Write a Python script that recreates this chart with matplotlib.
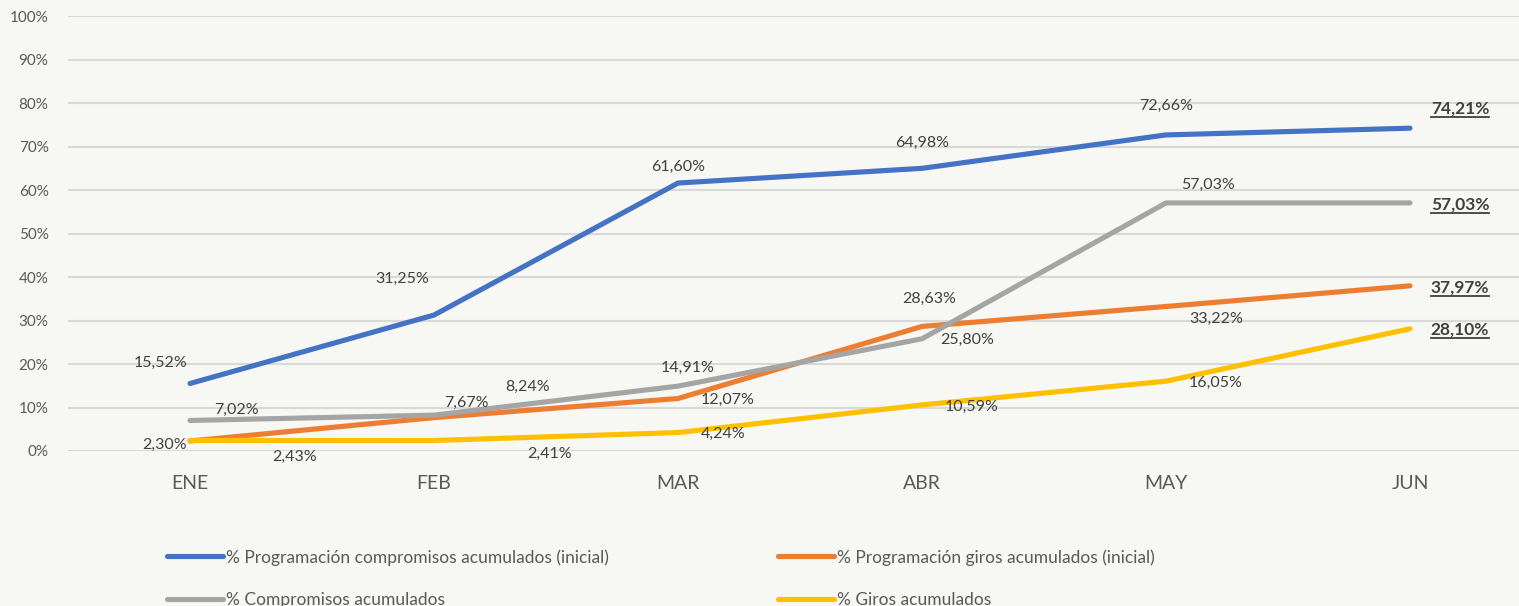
import numpy as np
import matplotlib
matplotlib.use('Agg')
import matplotlib.pyplot as plt
from matplotlib.lines import Line2D

#%% Datos

meses = ['ENE', 'FEB', 'MAR', 'ABR', 'MAY', 'JUN']

prog_compromisos = [15.52, 31.25, 61.60, 64.98, 72.66, 74.21]
prog_giros = [2.30, 7.67, 12.07, 28.63, 33.22, 37.97]
compromisos = [7.02, 8.24, 14.91, 25.80, 57.03, 57.03]
giros = [2.43, 2.41, 4.24, 10.59, 16.05, 28.10]

nombres = ['% Programación compromisos acumulados (inicial)',
           '% Programación giros acumulados (inicial)',
           '% Compromisos acumulados',
           '% Giros acumulados']

colores = ['#4472C4', '#ED7D31', '#A5A5A5', '#FFC000']

# desplazamiento de las etiquetas (pixeles, x derecha / y arriba)
off_azul = [(-29, 21), (-32, 36), (0, 16), (0, 25), (0, 29), (50, 20)]
off_naranja = [(-25, -4), (32, 15), (50, -1), (7, 28), (50, -12), (50, -2)]
off_gris = [(46, 11), (94, 28), (10, 18), (45, -1), (42, 18), (50, -2)]
off_amarillo = [(105, -16), (116, -13), (45, -1), (50, -2), (50, -2), (50, -1)]

#%% Figura

plt.rcParams['font.family'] = ['Lato', 'DejaVu Sans']
fondo = '#F7F7F3'

fig = plt.figure(figsize=(15.19, 6.06), dpi=100, facecolor=fondo)
ax = fig.add_axes([68/1519, 155/606, 1464/1519, 435/606])
ax.set_facecolor(fondo)

x = np.arange(len(meses))
series = [prog_compromisos, prog_giros, compromisos, giros]
offsets = [off_azul, off_naranja, off_gris, off_amarillo]

for s, c, n in zip(series, colores, nombres):
    ax.plot(x, s, color=c, lw=3.7, solid_capstyle='round',
            solid_joinstyle='round', label=n, zorder=3)

fin = []
for s, off in zip(series, offsets):
    for i, v in enumerate(s):
        txt = f'{v:.2f}'.replace('.', ',') + '%'
        ultimo = i == len(s) - 1
        t = ax.annotate(txt, (x[i], v), xytext=off[i], textcoords='offset pixels',
                        ha='center', va='center',
                        fontsize=12.5 if ultimo else 11.5, color='#404040',
                        fontweight='bold' if ultimo else 'normal', zorder=4)
        if ultimo:
            fin.append(t)

ax.set_xlim(-0.5, 5.5)
ax.set_ylim(0, 100)
ax.set_yticks(np.arange(0, 101, 10))
ax.set_yticklabels([f'{v}%' for v in range(0, 101, 10)])
ax.set_xticks(x)
ax.set_xticklabels(meses)
ax.tick_params(axis='y', length=0, pad=14, labelsize=11, labelcolor='#595959')
ax.tick_params(axis='x', length=0, pad=17, labelsize=14, labelcolor='#595959')
ax.grid(axis='y', color='#D9D9D9', lw=1.5, zorder=1)
for sp in ax.spines.values():
    sp.set_visible(False)

# leyenda en dos columnas
h = [Line2D([], [], color=c, lw=3.7, solid_capstyle='round') for c in colores]
kw = dict(frameon=False, fontsize=12.5, labelcolor='#595959', handlelength=3.2,
          handletextpad=0.2, labelspacing=1.5, borderpad=0, borderaxespad=0,
          loc='upper left')
fig.legend([h[0], h[2]], [nombres[0], nombres[2]],
           bbox_to_anchor=(167/1519, 1 - 549/606), **kw)
fig.legend([h[1], h[3]], [nombres[1], nombres[3]],
           bbox_to_anchor=(778/1519, 1 - 549/606), **kw)

# subrayado de las etiquetas de junio
fig.canvas.draw()
r = fig.canvas.get_renderer()
for t in fin:
    bb = t.get_window_extent(r).transformed(fig.transFigure.inverted())
    yb = bb.y0 - 0.5/606
    fig.add_artist(Line2D([bb.x0, bb.x1], [yb, yb], color='#404040', lw=1.3,
                          transform=fig.transFigure))

fig.savefig('out.png', dpi=100, facecolor=fondo)
